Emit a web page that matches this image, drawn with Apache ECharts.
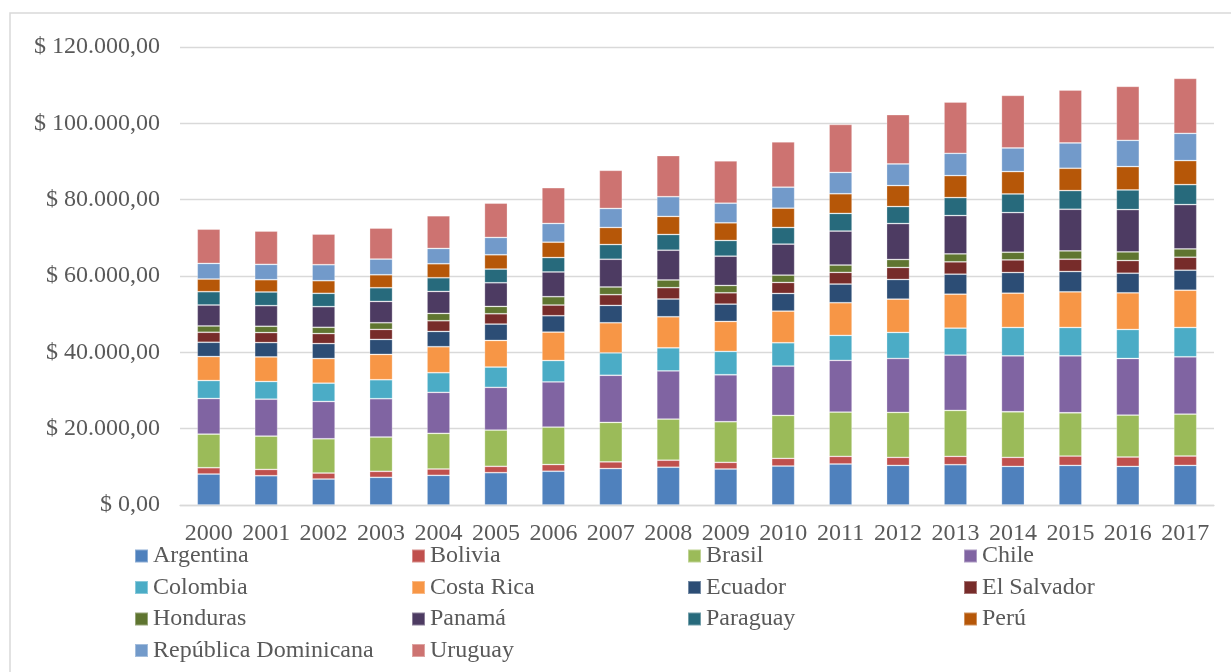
<!DOCTYPE html>
<html>
<head>
<meta charset="utf-8">
<script src="https://cdn.jsdelivr.net/npm/echarts@6/dist/echarts.min.js"></script>
<style>
html,body{margin:0;padding:0;background:#fff;}
#chart{width:1231px;height:672px;}
</style>
</head>
<body>
<div id="chart"></div>
<script>
const years = ['2000','2001','2002','2003','2004','2005','2006','2007','2008','2009','2010','2011','2012','2013','2014','2015','2016','2017'];

const argentina  = [8110, 7670, 6800, 7250, 7770, 8470, 8850, 9550, 9900, 9430, 10210, 10740, 10380, 10560, 10120, 10380, 10120, 10380];
const bolivia    = [1660, 1660, 1570, 1570, 1660, 1660, 1750, 1750, 1840, 1740, 2010, 2010, 2100, 2180, 2360, 2450, 2450, 2450];
const brasil     = [8800, 8720, 8980, 8990, 9340, 9510, 9810, 10340, 10780, 10650, 11260, 11610, 11780, 12040, 11950, 11340, 10990, 10990];
const chile      = [9330, 9680, 9770, 10040, 10740, 11180, 11830, 12350, 12610, 12310, 12920, 13530, 14140, 14490, 14660, 14920, 14830, 15010];
const colombia   = [4710, 4620, 4800, 4970, 5150, 5320, 5610, 5870, 6050, 6110, 6110, 6550, 6810, 7070, 7420, 7420, 7600, 7680];
const costaRica  = [6280, 6450, 6450, 6640, 6810, 6980, 7450, 7890, 8140, 7850, 8290, 8560, 8730, 8900, 8990, 9340, 9600, 9770];
const ecuador    = [3750, 3750, 3920, 3930, 4010, 4280, 4290, 4550, 4650, 4540, 4630, 4890, 5150, 5240, 5410, 5320, 5140, 5240];
const elSalvador = [2620, 2620, 2620, 2620, 2800, 2710, 2800, 2810, 2980, 2970, 2880, 3060, 3140, 3230, 3310, 3230, 3320, 3400];
const honduras   = [1650, 1660, 1650, 1740, 1920, 1920, 2190, 2010, 2010, 1920, 1920, 1920, 2090, 2090, 2010, 2180, 2270, 2180];
const panama     = [5490, 5400, 5410, 5590, 5760, 6200, 6480, 7270, 7800, 7680, 8120, 8900, 9420, 10030, 10380, 10910, 11080, 11610];
const paraguay   = [3490, 3580, 3490, 3580, 3580, 3580, 3770, 3850, 4120, 4110, 4360, 4630, 4450, 4710, 4890, 4890, 5150, 5230];
const peru       = [3310, 3220, 3310, 3400, 3670, 3750, 4030, 4470, 4730, 4620, 5060, 5150, 5500, 5760, 5850, 5850, 6110, 6290];
const repDom     = [4100, 4020, 4190, 4110, 4010, 4540, 4910, 4990, 5170, 5150, 5500, 5590, 5670, 5850, 6190, 6630, 6890, 7150];
const uruguay    = [8980, 8720, 8020, 8120, 8560, 8990, 9380, 9990, 10770, 11090, 11880, 12570, 12920, 13440, 13790, 13880, 14140, 14400];

const seriesNames = ['Argentina','Bolivia','Brasil','Chile','Colombia','Costa Rica','Ecuador','El Salvador','Honduras','Panamá','Paraguay','Perú','República Dominicana','Uruguay'];
const seriesData = [argentina, bolivia, brasil, chile, colombia, costaRica, ecuador, elSalvador, honduras, panama, paraguay, peru, repDom, uruguay];
const colors = ['#4F81BD','#C0504D','#9BBB59','#8064A2','#4BACC6','#F79646','#2C4D75','#772C2A','#5F7530','#4D3B62','#276A7C','#B65708','#729ACA','#CD7371'];

const legendCols = [
  {left: 134, names: ['Argentina','Colombia','Honduras','República Dominicana']},
  {left: 411, names: ['Bolivia','Costa Rica','Panamá','Uruguay']},
  {left: 687, names: ['Brasil','Ecuador','Paraguay']},
  {left: 963, names: ['Chile','El Salvador','Perú']}
];

const FONT = '"Liberation Serif", "Times New Roman", serif';
const TXT = '#595959';

function fmt(v){
  const s = Math.round(v).toString().replace(/\B(?=(\d{3})+(?!\d))/g, '.');
  return '$ ' + s + ',00';
}

const chart = echarts.init(document.getElementById('chart'));
chart.setOption({
  animation: false,
  color: colors,
  textStyle: {fontFamily: FONT},
  graphic: [{
    type: 'rect',
    shape: {x: 10, y: 13, width: 1260, height: 700},
    style: {fill: 'none', stroke: '#D9D9D9', lineWidth: 1.5},
    silent: true
  }],
  grid: {left: 180, right: 17, top: 47, bottom: 167, containLabel: false},
  legend: legendCols.map(c => ({
    orient: 'vertical',
    left: c.left,
    top: 544,
    height: 128,
    padding: 0,
    itemWidth: 13,
    itemHeight: 13,
    itemGap: 7.5,
    icon: 'rect',
    data: c.names,
    selectedMode: false,
    textStyle: {fontFamily: FONT, fontSize: 24, color: TXT, lineHeight: 24}
  })),
  xAxis: {
    type: 'category',
    data: years,
    axisLine: {lineStyle: {color: '#D9D9D9', width: 1.3}},
    axisTick: {show: false},
    axisLabel: {fontFamily: FONT, fontSize: 24, color: TXT, margin: 17, interval: 0}
  },
  yAxis: {
    type: 'value',
    min: 0, max: 120000, interval: 20000,
    axisLine: {show: false},
    axisTick: {show: false},
    splitLine: {lineStyle: {color: '#D9D9D9', width: 1.3}},
    axisLabel: {fontFamily: FONT, fontSize: 24, color: TXT, margin: 20, formatter: fmt}
  },
  series: seriesNames.map((n, i) => ({
    name: n,
    type: 'bar',
    stack: 'total',
    barWidth: '40%',
    data: seriesData[i],
    itemStyle: {color: colors[i], borderColor: 'rgba(255,255,255,0.35)', borderWidth: 0.8}
  }))
});
</script>
</body>
</html>
